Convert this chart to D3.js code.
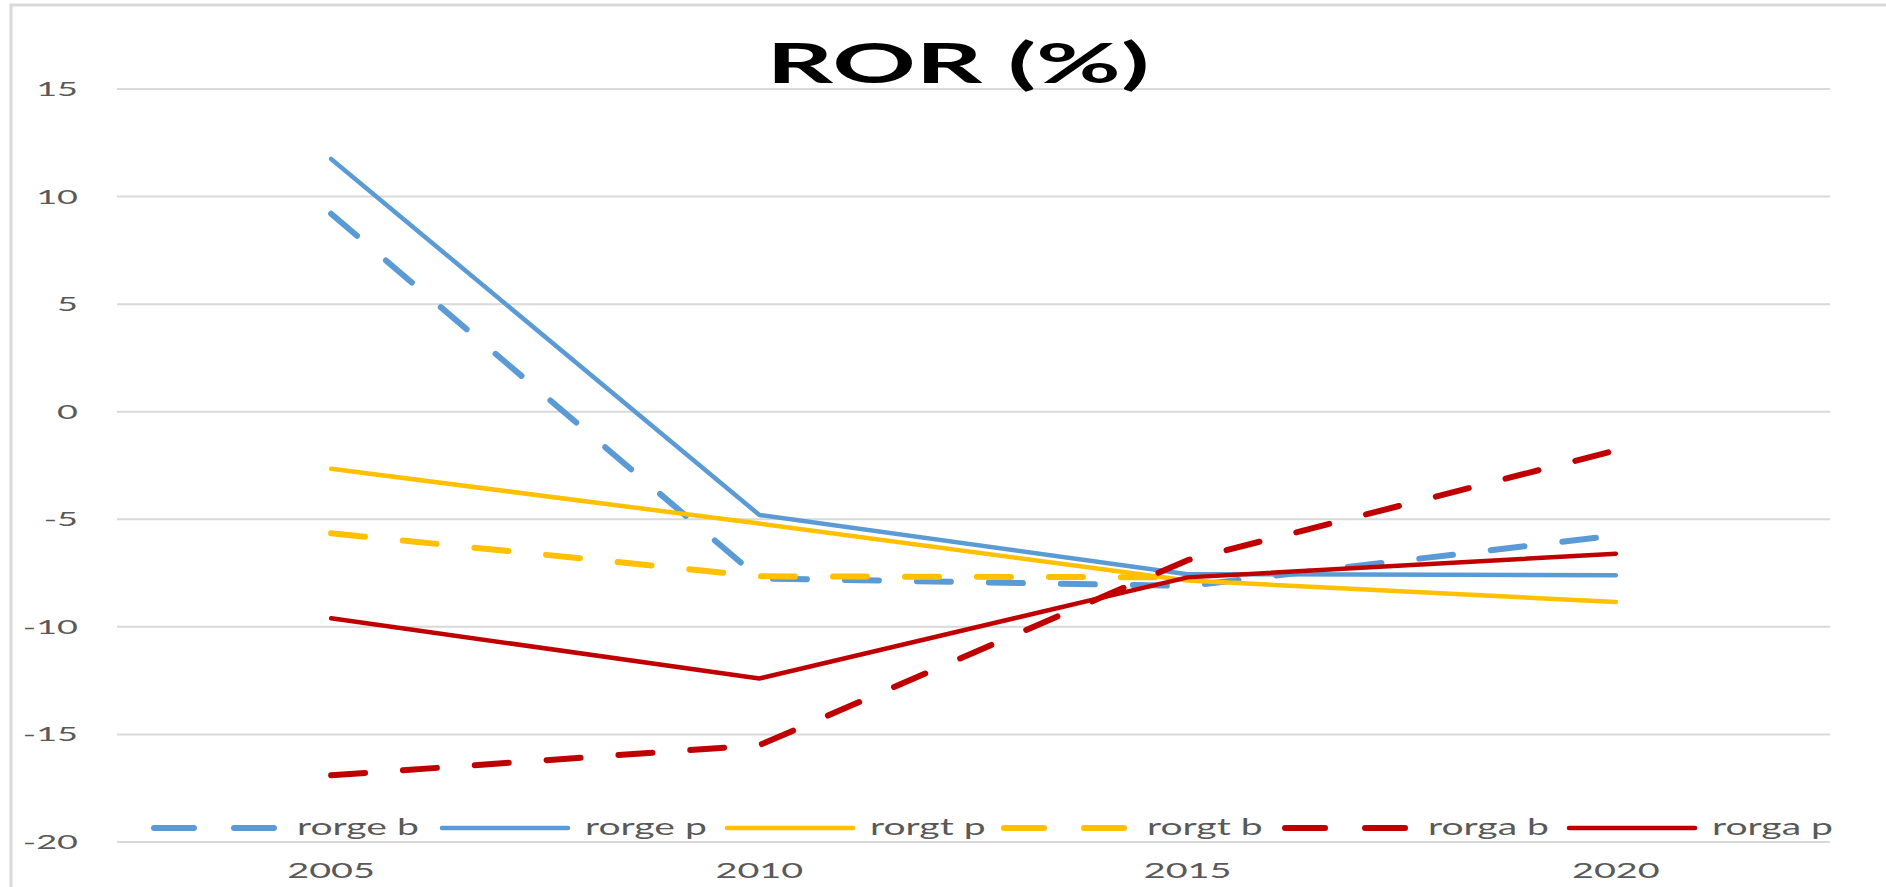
<!DOCTYPE html>
<html>
<head>
<meta charset="utf-8">
<script src="https://cdn.jsdelivr.net/npm/d3@7"></script>
<style>
  body { margin: 0; background: #fff; }
  text { font-family: Lato, "Open Sans", sans-serif; fill: #595959; }
</style>
</head>
<body>
<script>
// chart data
var years = ["2005", "2010", "2015", "2020"];
var seriesNames = ["rorge b", "rorge p", "rorgt p", "rorgt b", "rorga b", "rorga p"];
var rorgeB = [9.2, -7.75, -8.1, -5.75];
var rorgeP = [11.75, -4.8, -7.55, -7.6];
var rorgtP = [-2.65, -5.2, -7.85, -8.85];
var rorgtB = [-5.65, -7.65, -7.7, null];
var rorgaB = [-16.9, -15.5, -6.9, -1.8];
var rorgaP = [-9.6, -12.4, -7.7, -6.6];
var yTicks = [15, 10, 5, 0, -5, -10, -15, -20];

var seriesValues = [rorgeB, rorgeP, rorgtP, rorgtB, rorgaB, rorgaP];
var colors = ["#5B9BD5", "#5B9BD5", "#FFC000", "#FFC000", "#C00000", "#C00000"];
var dashed = [true, false, false, true, true, false];

var width = 1886, height = 887;
var stretch = 1.8; // text in the picture is wider than it is tall

var svg = d3.select("body").append("svg")
    .attr("width", width)
    .attr("height", height);

// chart area border (left and top edges visible)
svg.append("rect")
    .attr("x", 11)
    .attr("y", 5)
    .attr("width", width + 20)
    .attr("height", height + 20)
    .attr("fill", "none")
    .attr("stroke", "#d9d9d9")
    .attr("stroke-width", 3);

// set the ranges
var x = d3.scaleBand().domain(years).range([117, 1830]);
var y = d3.scaleLinear().domain([-20, 15]).range([842, 89]);

// gridlines
svg.append("g")
  .selectAll("line")
  .data(yTicks)
  .enter().append("line")
    .attr("x1", 117)
    .attr("x2", 1830)
    .attr("y1", function(d) { return y(d); })
    .attr("y2", function(d) { return y(d); })
    .attr("stroke", "#d9d9d9")
    .attr("stroke-width", 2);

// y tick labels
svg.append("g")
  .selectAll("text")
  .data(yTicks)
  .enter().append("text")
    .attr("transform", function(d) { return "translate(78," + (y(d) + 7) + ") scale(" + stretch + ",1)"; })
    .attr("text-anchor", "end")
    .style("font-size", "20px")
    .text(function(d) { return d; });

// x tick labels
svg.append("g")
  .selectAll("text")
  .data(years)
  .enter().append("text")
    .attr("transform", function(d) { return "translate(" + (x(d) + x.bandwidth() / 2) + ",878) scale(" + stretch + ",1)"; })
    .attr("text-anchor", "middle")
    .style("font-size", "21px")
    .text(function(d) { return d; });

// define the line
var valueline = d3.line()
    .defined(function(d) { return d.v !== null; })
    .x(function(d) { return x(d.year) + x.bandwidth() / 2; })
    .y(function(d) { return y(d.v); });

for (let i = 0; i < seriesValues.length; i++) {
  var pts = years.map(function(yr, j) { return {year: yr, v: seriesValues[i][j]}; });
  svg.append("path")
      .datum(pts)
      .attr("fill", "none")
      .attr("stroke", colors[i])
      .attr("stroke-width", dashed[i] ? 6 : 4.5)
      .attr("stroke-linecap", "round")
      .attr("stroke-linejoin", "round")
      .attr("stroke-dasharray", dashed[i] ? "34,38" : null)
      .attr("d", valueline);
}

// legend
var legendX = [154, 442, 727, 1004, 1285, 1569];
var legend = svg.append("g");
for (let i = 0; i < seriesNames.length; i++) {
  legend.append("line")
      .attr("x1", legendX[i])
      .attr("x2", legendX[i] + 126)
      .attr("y1", 828)
      .attr("y2", 828)
      .attr("stroke", colors[i])
      .attr("stroke-width", dashed[i] ? 6 : 4.5)
      .attr("stroke-linecap", "round")
      .attr("stroke-dasharray", dashed[i] ? "40,40" : null);
  legend.append("text")
      .attr("transform", "translate(" + (legendX[i] + 143) + ",835) scale(1.7,1)")
      .style("font-size", "23px")
      .text(seriesNames[i]);
}

// title
svg.append("text")
    .attr("transform", "translate(958,83) scale(1.85,1)")
    .attr("text-anchor", "middle")
    .style("font-size", "56px")
    .style("font-weight", "bold")
    .style("fill", "#000")
    .text("ROR (%)");
</script>
</body>
</html>
